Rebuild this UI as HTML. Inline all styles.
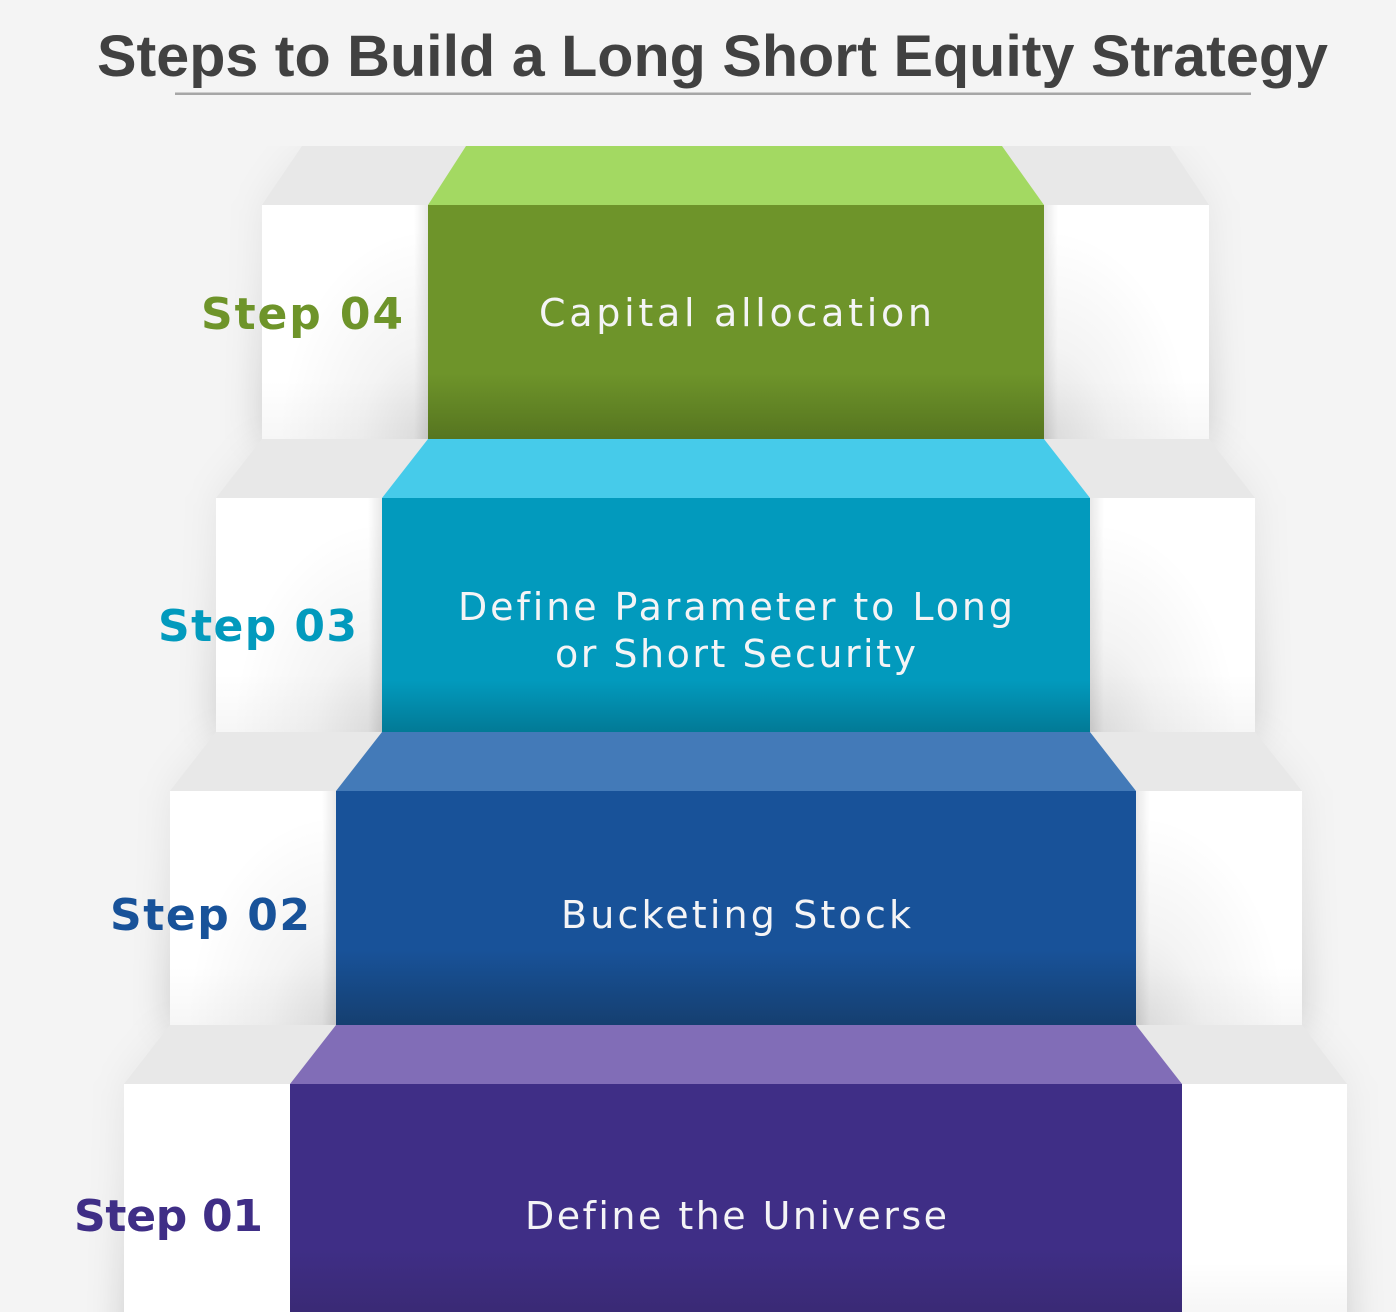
<!DOCTYPE html>
<html><head><meta charset="utf-8"><style>
html,body{margin:0;padding:0;background:#f4f4f4;width:1396px;height:1312px;overflow:hidden}
svg{display:block}
text{font-family:"DejaVu Sans",sans-serif;font-variant-ligatures:none}
text.t{font-family:"Liberation Sans",sans-serif}
</style></head><body>
<svg width="1396" height="1312" viewBox="0 0 1396 1312" xmlns="http://www.w3.org/2000/svg">
<defs>
<linearGradient id="fg" x1="0" y1="0" x2="0" y2="1"><stop offset="0" stop-color="#6e942a"/><stop offset=".72" stop-color="#6e942a"/><stop offset="1" stop-color="#567520"/></linearGradient>
<linearGradient id="fc" x1="0" y1="0" x2="0" y2="1"><stop offset="0" stop-color="#029abd"/><stop offset=".78" stop-color="#029abd"/><stop offset="1" stop-color="#027a96"/></linearGradient>
<linearGradient id="fb" x1="0" y1="0" x2="0" y2="1"><stop offset="0" stop-color="#185299"/><stop offset=".68" stop-color="#185299"/><stop offset="1" stop-color="#153f70"/></linearGradient>
<linearGradient id="fp" x1="0" y1="0" x2="0" y2="1"><stop offset="0" stop-color="#3f2e86"/><stop offset=".72" stop-color="#3f2e86"/><stop offset="1" stop-color="#3a2a75"/></linearGradient>
<linearGradient id="shade" x1="0" y1="0" x2="0" y2="1"><stop offset="0" stop-color="#000" stop-opacity=".04"/><stop offset=".45" stop-color="#000" stop-opacity=".08"/><stop offset="1" stop-color="#000" stop-opacity=".2"/></linearGradient>
<linearGradient id="bot" x1="0" y1="0" x2="0" y2="1"><stop offset="0" stop-color="#000" stop-opacity="0"/><stop offset="1" stop-color="#000" stop-opacity=".035"/></linearGradient>
<radialGradient id="cl" cx="1" cy="1" r="1"><stop offset="0" stop-color="#000" stop-opacity=".12"/><stop offset=".4" stop-color="#000" stop-opacity=".045"/><stop offset=".9" stop-color="#000" stop-opacity="0"/></radialGradient>
<radialGradient id="cr" cx="0" cy="1" r="1"><stop offset="0" stop-color="#000" stop-opacity=".12"/><stop offset=".4" stop-color="#000" stop-opacity=".045"/><stop offset=".9" stop-color="#000" stop-opacity="0"/></radialGradient>
<linearGradient id="il" x1="0" y1="0" x2="1" y2="0"><stop offset="0" stop-color="#000" stop-opacity=".09"/><stop offset="1" stop-color="#000" stop-opacity="0"/></linearGradient>
<linearGradient id="ir" x1="1" y1="0" x2="0" y2="0"><stop offset="0" stop-color="#000" stop-opacity=".09"/><stop offset="1" stop-color="#000" stop-opacity="0"/></linearGradient>
<filter id="blur" x="-20%" y="-20%" width="140%" height="140%"><feGaussianBlur stdDeviation="18"/></filter>
<clipPath id="cp"><rect x="0" y="146" width="1396" height="1166"/></clipPath>
</defs>
<rect width="1396" height="1312" fill="#f4f4f4"/>

<!-- title -->
<text class="t" x="97" y="76" font-size="58" font-weight="700" fill="#414141" textLength="1231" lengthAdjust="spacingAndGlyphs">Steps to Build a Long Short Equity Strategy</text>
<rect x="175" y="92.5" width="1076" height="2.5" fill="#a6a6a6"/>

<!-- soft outer shadows -->
<g clip-path="url(#cp)">
<polygon filter="url(#blur)" fill="url(#shade)" points="302,146 1170,146 1209,205 1209,439 262,439 262,205"/>
<polygon filter="url(#blur)" fill="url(#shade)" points="262,439 1209,439 1255,498 1255,732 216,732 216,498"/>
<polygon filter="url(#blur)" fill="url(#shade)" points="216,732 1255,732 1302,791 1302,1025 170,1025 170,791"/>
<polygon filter="url(#blur)" fill="url(#shade)" points="170,1025 1302,1025 1347,1084 1347,1360 124,1360 124,1084"/>
</g>

<!-- step 4 -->
<polygon points="302,146 1170,146 1209,205 262,205" fill="#e8e8e8"/>
<rect x="262" y="205" width="947" height="234" fill="#fff"/>
<rect x="262" y="380" width="947" height="59" fill="url(#bot)"/>
<rect x="262" y="205" width="166" height="234" fill="url(#cl)"/>
<rect x="1044" y="205" width="165" height="234" fill="url(#cr)"/>
<rect x="1044" y="205" width="14" height="234" fill="url(#il)"/>
<rect x="414" y="205" width="14" height="234" fill="url(#ir)"/>
<polygon points="466,146 1002,146 1044,205 428,205" fill="#a3d962"/>
<rect x="428" y="205" width="616" height="234" fill="url(#fg)"/>

<!-- step 3 -->
<polygon points="262,439 1209,439 1255,498 216,498" fill="#e8e8e8"/>
<rect x="216" y="498" width="1039" height="234" fill="#fff"/>
<rect x="216" y="673" width="1039" height="59" fill="url(#bot)"/>
<rect x="216" y="498" width="166" height="234" fill="url(#cl)"/>
<rect x="1090" y="498" width="165" height="234" fill="url(#cr)"/>
<rect x="1090" y="498" width="14" height="234" fill="url(#il)"/>
<rect x="368" y="498" width="14" height="234" fill="url(#ir)"/>
<polygon points="428,439 1044,439 1090,498 382,498" fill="#46cbea"/>
<rect x="382" y="498" width="708" height="234" fill="url(#fc)"/>

<!-- step 2 -->
<polygon points="216,732 1255,732 1302,791 170,791" fill="#e8e8e8"/>
<rect x="170" y="791" width="1132" height="234" fill="#fff"/>
<rect x="170" y="966" width="1132" height="59" fill="url(#bot)"/>
<rect x="170" y="791" width="166" height="234" fill="url(#cl)"/>
<rect x="1136" y="791" width="166" height="234" fill="url(#cr)"/>
<rect x="1136" y="791" width="14" height="234" fill="url(#il)"/>
<rect x="322" y="791" width="14" height="234" fill="url(#ir)"/>
<polygon points="382,732 1090,732 1136,791 336,791" fill="#437ab8"/>
<rect x="336" y="791" width="800" height="234" fill="url(#fb)"/>

<!-- step 1 -->
<polygon points="170,1025 1302,1025 1347,1084 124,1084" fill="#e8e8e8"/>
<rect x="124" y="1084" width="1223" height="228" fill="#fff"/>
<rect x="1182" y="1262" width="165" height="50" fill="url(#bot)"/>
<polygon points="336,1025 1136,1025 1182,1084 290,1084" fill="#816db7"/>
<rect x="290" y="1084" width="892" height="228" fill="url(#fp)"/>

<!-- step labels -->
<g font-size="44" font-weight="700" lengthAdjust="spacing">
<text x="201" y="329" fill="#6e942a" textLength="202">Step 04</text>
<text x="158" y="641" fill="#029abd" textLength="199">Step 03</text>
<text x="110" y="930" fill="#185299" textLength="200">Step 02</text>
<text x="74" y="1231" fill="#3f2e86" textLength="189">Step 01</text>
</g>

<!-- face labels -->
<g font-size="38" fill="#f4f4f6" lengthAdjust="spacing">
<text x="539" y="326" textLength="393">Capital allocation</text>
<text x="458" y="620" textLength="555">Define Parameter to Long</text>
<text x="555" y="667" textLength="361">or Short Security</text>
<text x="561" y="928" textLength="350">Bucketing Stock</text>
<text x="525" y="1229" textLength="422">Define the Universe</text>
</g>
</svg>
</body></html>
